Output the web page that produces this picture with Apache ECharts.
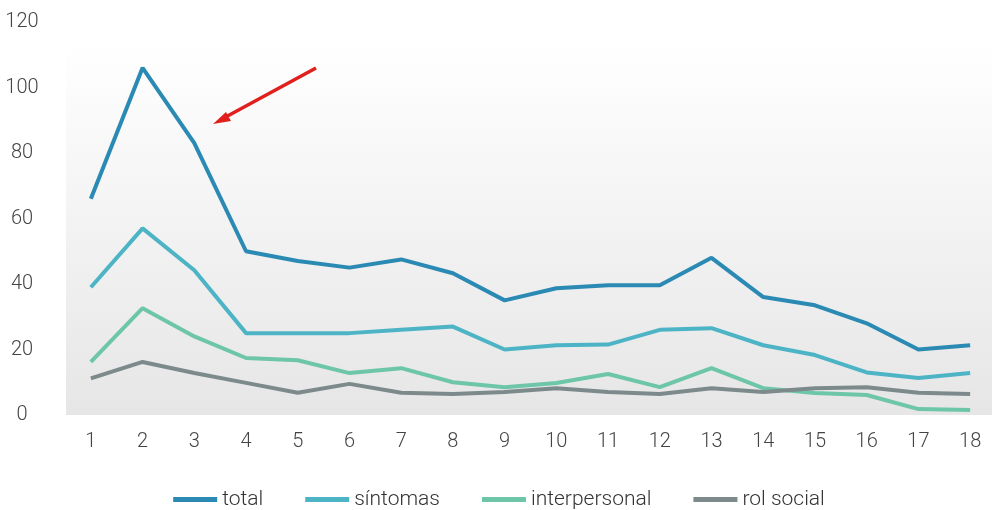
<!DOCTYPE html>
<html><head><meta charset="utf-8">
<script src="https://cdn.jsdelivr.net/npm/echarts@6/dist/echarts.min.js"></script>
<style>html,body{margin:0;padding:0;background:#fff}#c{width:998px;height:510px}</style>
</head><body><div id="c"></div>
<script>
const categories = ['1','2','3','4','5','6','7','8','9','10','11','12','13','14','15','16','17','18'];
const total = [66,106,83,50,47,45,47.5,43.3,35,38.7,39.6,39.6,48,36,33.5,28,20,21.3];
const sintomas = [39,57,44.2,25,25,25,26,27,20,21.3,21.5,26,26.5,21.3,18.3,13,11.3,12.8];
const interpersonal = [16.2,32.6,24,17.4,16.7,12.8,14.3,10,8.5,9.8,12.5,8.5,14.3,8.2,6.7,6.1,1.8,1.5];
const rolSocial = [11.2,16.2,12.8,9.8,6.8,9.5,6.8,6.4,7,8.2,7,6.4,8.2,7,8.2,8.5,6.8,6.4];
const yTicks = [0,20,40,60,80,100,120];

const chart = echarts.init(document.getElementById('c'), null, {renderer:'canvas'});
const font = {fontFamily:'Roboto', fontWeight:300, fontSize:20, color:'#444'};
function mk(name, data, color){
  return {name, type:'line', data, symbol:'none', smooth:false,
    lineStyle:{width:4, color}, itemStyle:{color}, z:3};
}
chart.setOption({
  animation:false,
  textStyle:{fontFamily:'Roboto'},
  grid:{left:65, right:2, top:22, bottom:95},
  graphic:[
    {type:'rect', z:-1, shape:{x:66, y:40, width:926, height:375},
     style:{fill:new echarts.graphic.LinearGradient(0,0,0,1,[{offset:0,color:'#ffffff'},{offset:1,color:'#e6e6e6'}])}},
    {type:'line', z:10, shape:{x1:316,y1:68,x2:222,y2:119}, style:{stroke:'#e0201c', lineWidth:3.5}},
    {type:'polygon', z:10, shape:{points:[[213,124],[226,112],[231,121]]}, style:{fill:'#e0201c'}}
  ],
  legend:{top:484, left:'center', icon:'rect', itemWidth:44, itemHeight:5, itemGap:42,
    textStyle:Object.assign({}, font, {color:'#333', fontSize:21}),
    data:['total','síntomas','interpersonal','rol social']},
  xAxis:{type:'category', data:categories, boundaryGap:true,
    axisLine:{show:false}, axisTick:{show:false}, splitLine:{show:false},
    axisLabel:Object.assign({margin:17}, font)},
  yAxis:{type:'value', min:0, max:120, interval:20,
    axisLine:{show:false}, axisTick:{show:false}, splitLine:{show:false},
    axisLabel:Object.assign({margin:43, align:'center', formatter:v=>yTicks.includes(v)?String(v):''}, font)},
  series:[
    mk('total', total, '#2b8ab3'),
    mk('síntomas', sintomas, '#4db4c6'),
    mk('interpersonal', interpersonal, '#6dc6a7'),
    mk('rol social', rolSocial, '#7d8a8c')
  ]
});
</script></body></html>
